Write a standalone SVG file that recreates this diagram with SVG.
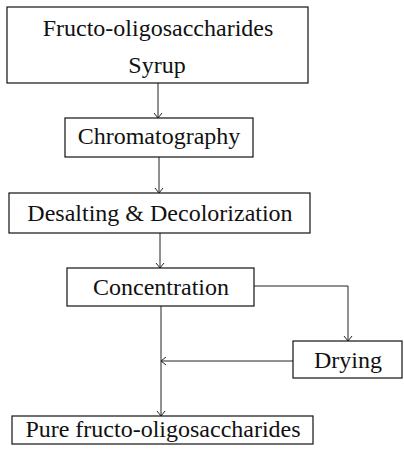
<svg xmlns="http://www.w3.org/2000/svg" width="404" height="454" viewBox="0 0 404 454">
<defs>
<style>
.box{fill:#fff;stroke:#111;stroke-width:1.2}
.t{font-family:"Liberation Serif","Times New Roman",serif;font-size:24px;fill:#111;text-anchor:middle}
.c{fill:none;stroke:#222;stroke-width:1}
</style>
<marker id="ah" viewBox="-6 -5 7 10" markerWidth="7" markerHeight="10" refX="0" refY="0" orient="auto" markerUnits="userSpaceOnUse">
<path d="M-5,-4 L0,0 L-5,4" fill="none" stroke="#222" stroke-width="1"/>
</marker>
</defs>
<rect width="404" height="454" fill="#fff"/>
<g id="connectors">
<line class="c" x1="158" y1="83" x2="158" y2="118" marker-end="url(#ah)"/>
<line class="c" x1="159" y1="157" x2="159" y2="193" marker-end="url(#ah)"/>
<line class="c" x1="160" y1="233" x2="160" y2="268" marker-end="url(#ah)"/>
<polyline class="c" points="254,286 348,286 348,341" marker-end="url(#ah)"/>
<line class="c" x1="293" y1="361" x2="161" y2="361" marker-end="url(#ah)"/>
<line class="c" x1="161" y1="306" x2="161" y2="416" marker-end="url(#ah)"/>
</g>
<g id="syrup">
<rect class="box" x="7" y="7" width="301" height="76"/>
<text class="t" x="158" y="36">Fructo-oligosaccharides</text>
<text class="t" x="157" y="73">Syrup</text>
</g>
<g id="chromatography">
<rect class="box" x="65" y="118" width="188" height="39"/>
<text class="t" x="159" y="144">Chromatography</text>
</g>
<g id="desalting">
<rect class="box" x="9" y="193" width="301" height="40"/>
<text class="t" x="160" y="221">Desalting &amp; Decolorization</text>
</g>
<g id="concentration">
<rect class="box" x="67" y="268" width="187" height="38"/>
<text class="t" x="161" y="295">Concentration</text>
</g>
<g id="drying">
<rect class="box" x="293" y="341" width="109" height="37"/>
<text class="t" x="348" y="368">Drying</text>
</g>
<g id="pure">
<rect class="box" x="12" y="416" width="301" height="28"/>
<text class="t" x="163" y="437">Pure fructo-oligosaccharides</text>
</g>
</svg>
